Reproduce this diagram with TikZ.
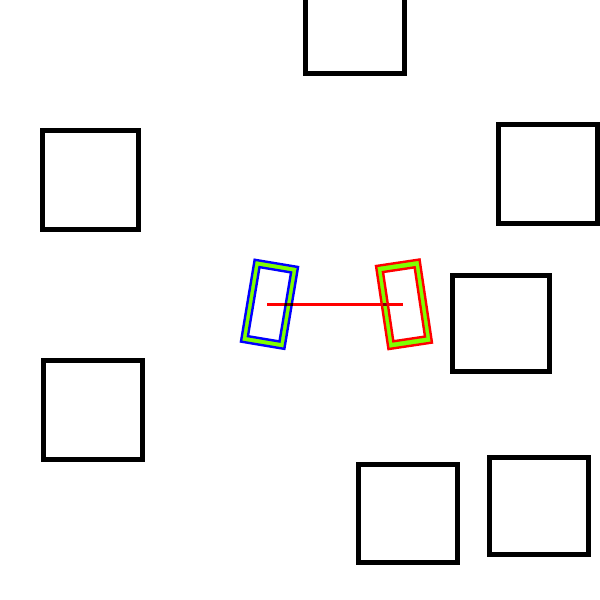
\documentclass[tikz,border=0pt]{standalone}
\definecolor{bandgreen}{RGB}{127,255,0}
\tikzset{
  sq/.style={draw=black, line width=5pt, line join=miter},
  band/.style={fill=bandgreen, even odd rule},
  rim/.style={line width=2.4pt, line join=miter},
  link/.style={draw=red, line width=3pt, blend mode=multiply}
}
\begin{document}
\begin{tikzpicture}[x=1pt,y=-1pt]
\useasboundingbox (0,0) rectangle (600,600);
\fill[white] (0,0) rectangle (600,600);
% black squares
\draw[sq] (305,-26) rectangle (404,73);
\draw[sq] (42.5,130.8) rectangle (138.5,229);
\draw[sq] (498.5,124.8) rectangle (597.5,223.2);
\draw[sq] (452.5,275.2) rectangle (549.2,371.8);
\draw[sq] (43.5,360.8) rectangle (142.5,459.8);
\draw[sq] (358.5,464.2) rectangle (457.5,562.5);
\draw[sq] (489.2,457.5) rectangle (588.5,554.2);
% left rotated frame (blue)
\begin{scope}[shift={(269.5,304.3)}, rotate=-9.5]
  \fill[band] (-22,-41.5) rectangle (22,41.5) (-16,-35) rectangle (16,35);
  \draw[rim, blue] (-22,-41.5) rectangle (22,41.5);
  \draw[rim, blue] (-16,-35) rectangle (16,35);
\end{scope}
% right rotated frame (red)
\begin{scope}[shift={(404,304.3)}, rotate=8.5]
  \fill[band] (-22,-42) rectangle (22,42) (-16,-35) rectangle (16,35);
  \draw[rim, red] (-22,-42) rectangle (22,42);
  \draw[rim, red] (-16,-35) rectangle (16,35);
\end{scope}
\coordinate (lc) at (267,304);
\coordinate (rc) at (403,304);
\draw[link] (lc) -- (rc);
\end{tikzpicture}
\end{document}
